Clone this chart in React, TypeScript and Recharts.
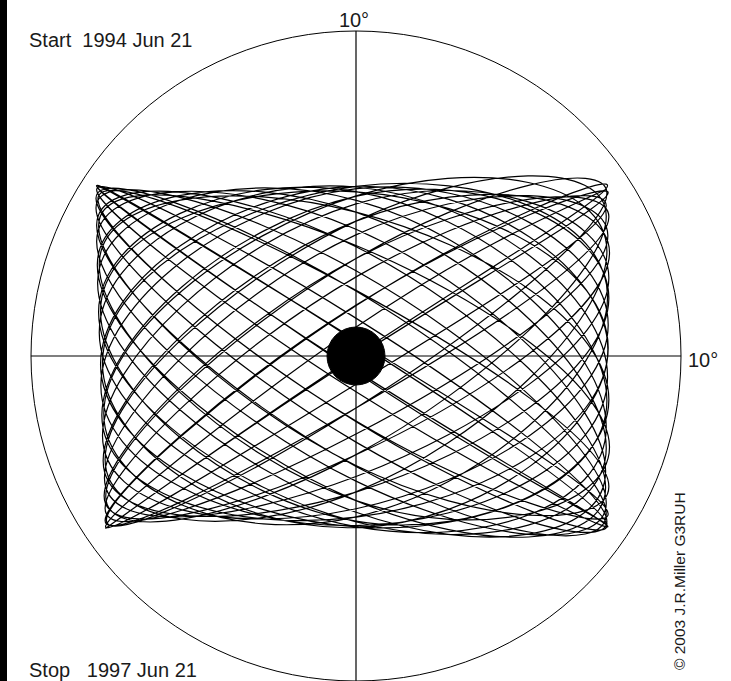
import { LineChart, Line, XAxis, YAxis, ReferenceLine, ReferenceDot } from 'recharts';

// orbit track in degrees from the Sun, read loop by loop:
// right edge, crossing of the vertical axis, left edge, crossing again
const orbitX = [
  7.72, 0.05, -7.70, -0.05,
  7.70, 0.03, -7.72, 0.00,
  7.75, -0.02, -7.74, 0.02,
  7.78, 0.00, -7.80, 0.00,
  7.76, 0.02, -7.85, -0.03,
  7.74, 0.00, -7.90, 0.00,
  7.70, 0.04, -7.95, -0.02,
  7.68, 0.00, -7.98, 0.00,
  7.70, 0.00, -8.00, 0.00,
  7.72, 0.02, -7.98, 0.00,
  7.75, 0.00, -7.96, 0.02,
  7.76, 0.00, -7.94, 0.00,
  7.78, -0.02, -7.92, 0.00,
  7.80, 0.00, -7.90, 0.03,
  7.78, 0.00, -7.86, 0.00,
  7.76, 0.02, -7.80, 0.00,
  7.74, 0.00, -7.76, -0.02,
  7.72, 0.00, -7.72, 0.00,
  7.70, 0.03, -7.70, 0.00,
  7.72, 0.00, -7.68, 0.02,
  7.74, 0.00, -7.70, 0.00,
  7.76, -0.02, -7.72, 0.00,
  7.78, 0.00, -7.75, 0.00,
  7.80, 0.00, -7.78, 0.02,
  7.78, 0.02, -7.82, 0.00,
  7.75, 0.00, -7.86, 0.00,
  7.72, 0.00, -7.92, -0.02,
  7.70, 0.02, -7.96, 0.00,
  7.68, 0.00, -7.98, 0.00,
  7.70, 0.00, -8.00, 0.03,
  7.72, 0.00, -7.98, 0.00,
  7.74,
];

const orbitY = [
  5.14, 0.92, -5.22, -0.90,
  4.62, 2.45, -4.68, -2.40,
  3.70, 3.72, -3.75, -3.70,
  2.40, 4.68, -2.45, -4.70,
  0.95, 5.15, -0.90, -5.22,
  -0.65, 5.20, 0.72, -5.25,
  -2.20, 4.78, 2.25, -4.80,
  -3.55, 3.90, 3.52, -3.85,
  -4.52, 2.62, 4.55, -2.65,
  -5.10, 1.15, 5.12, -1.10,
  -5.25, -0.45, 5.20, 0.48,
  -4.86, -2.00, 4.82, 2.02,
  -4.02, -3.36, 4.00, 3.40,
  -2.80, -4.45, 2.82, 4.42,
  -1.35, -5.08, 1.38, 5.05,
  0.25, -5.28, -0.22, 5.22,
  1.82, -4.95, -1.78, 4.92,
  3.22, -4.18, -3.18, 4.15,
  4.30, -3.02, -4.32, 3.00,
  5.00, -1.60, -5.05, 1.56,
  5.24, 0.02, -5.30, -0.04,
  5.02, 1.55, -5.06, -1.60,
  4.28, 3.00, -4.30, -3.04,
  3.18, 4.15, -3.22, -4.18,
  1.78, 4.92, -1.82, -4.96,
  0.20, 5.22, -0.25, -5.26,
  -1.38, 5.06, 1.35, -5.10,
  -2.84, 4.42, 2.80, -4.45,
  -4.05, 3.36, 4.02, -3.40,
  -4.86, 2.00, 4.85, -2.04,
  -5.22, 0.45, 5.22, -0.50,
  -5.18,
];

const FIELD = [-10, 10];
const startLabel = 'Start\u00A0\u00A01994 Jun 21';
const stopLabel = 'Stop\u00A0\u00A0\u00A01997 Jun 21';
const axisLabel = '10°';
const credit = '© 2003 J.R.Miller G3RUH';

const track = orbitX.map((x, i) => ({ x, y: orbitY[i] }));

const W = 731;
const H = 681;
const PLOT = 650;
const font = '"Liberation Sans", Arial, sans-serif';

export default function App() {
  return (
    <div style={{ position: 'fixed', left: 0, top: 0, width: W, height: H, background: '#fff', overflow: 'hidden' }}>
      <LineChart width={W} height={H} data={track} margin={{ top: 31, left: 31, right: W - 31 - PLOT, bottom: H - 31 - PLOT }}>
        <XAxis type="number" dataKey="x" domain={FIELD} hide allowDataOverflow />
        <YAxis type="number" dataKey="y" domain={FIELD} hide allowDataOverflow />
        <ReferenceDot x={0} y={0} r={PLOT / 2} fill="none" stroke="#000" strokeWidth={1} />
        <ReferenceLine segment={[{ x: -10, y: 0 }, { x: 10, y: 0 }]} stroke="#000" strokeWidth={1.2} />
        <ReferenceLine segment={[{ x: 0, y: -10 }, { x: 0, y: 10 }]} stroke="#000" strokeWidth={1.2} />
        <Line
          type="natural"
          dataKey="y"
          stroke="#000"
          strokeWidth={1.2}
          dot={false}
          activeDot={false}
          isAnimationActive={false}
        />
        <ReferenceDot x={0} y={0} r={29} fill="#000" stroke="#000" />
      </LineChart>
      <svg width={W} height={H} style={{ position: 'absolute', left: 0, top: 0, pointerEvents: 'none' }}>
        <rect x={0} y={0} width={7} height={H} fill="#000" />
        <g fontFamily={font} fill="#1a1a1a">
          <text x={29} y={47} fontSize={20}>{startLabel}</text>
          <text x={29} y={677} fontSize={20}>{stopLabel}</text>
          <text x={354} y={27} fontSize={20} textAnchor="middle">{axisLabel}</text>
          <text x={688} y={367} fontSize={20}>{axisLabel}</text>
          <text transform="translate(685, 670) rotate(-90)" fontSize={15.5}>{credit}</text>
        </g>
      </svg>
    </div>
  );
}
